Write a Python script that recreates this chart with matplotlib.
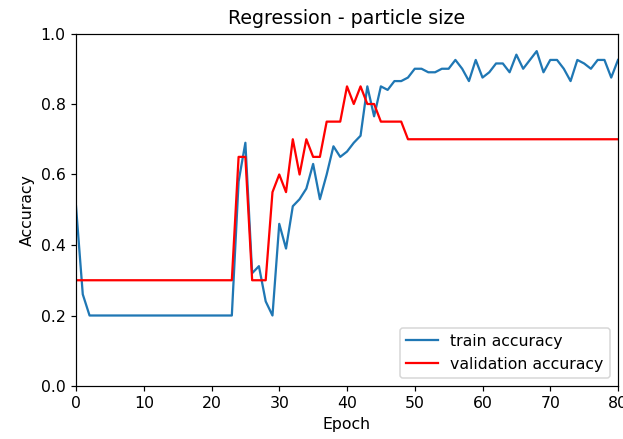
import matplotlib
matplotlib.use("Agg")
import matplotlib.pyplot as plt

DPI = 108
W, H = 623, 439

epochs = list(range(81))

train_acc = [
    0.51, 0.26, 0.20, 0.20, 0.20, 0.20, 0.20, 0.20, 0.20, 0.20,
    0.20, 0.20, 0.20, 0.20, 0.20, 0.20, 0.20, 0.20, 0.20, 0.20,
    0.20, 0.20, 0.20, 0.20, 0.58, 0.69, 0.32, 0.34, 0.24, 0.20,
    0.46, 0.39, 0.51, 0.53, 0.56, 0.63, 0.53, 0.60, 0.68, 0.65,
    0.665, 0.69, 0.71, 0.85, 0.765, 0.85, 0.84, 0.865, 0.865, 0.875,
    0.90, 0.90, 0.89, 0.89, 0.90, 0.90, 0.925, 0.90, 0.865, 0.925,
    0.875, 0.89, 0.915, 0.915, 0.89, 0.94, 0.90, 0.925, 0.95, 0.89,
    0.925, 0.925, 0.90, 0.865, 0.925, 0.915, 0.90, 0.925, 0.925, 0.875,
    0.925,
]

val_acc = [
    0.30, 0.30, 0.30, 0.30, 0.30, 0.30, 0.30, 0.30, 0.30, 0.30,
    0.30, 0.30, 0.30, 0.30, 0.30, 0.30, 0.30, 0.30, 0.30, 0.30,
    0.30, 0.30, 0.30, 0.30, 0.65, 0.65, 0.30, 0.30, 0.30, 0.55,
    0.60, 0.55, 0.70, 0.60, 0.70, 0.65, 0.65, 0.75, 0.75, 0.75,
    0.85, 0.80, 0.85, 0.80, 0.80, 0.75, 0.75, 0.75, 0.75, 0.70,
    0.70, 0.70, 0.70, 0.70, 0.70, 0.70, 0.70, 0.70, 0.70, 0.70,
    0.70, 0.70, 0.70, 0.70, 0.70, 0.70, 0.70, 0.70, 0.70, 0.70,
    0.70, 0.70, 0.70, 0.70, 0.70, 0.70, 0.70, 0.70, 0.70, 0.70,
    0.70,
]

plt.rcParams["font.size"] = 10.5

fig = plt.figure(figsize=(W / DPI, H / DPI), dpi=DPI)
ax = fig.add_axes([76 / W, (H - 386) / H, 542 / W, 352.5 / H])

ax.plot(epochs, train_acc, color="#1f77b4", linewidth=1.5, label="train accuracy")
ax.plot(epochs, val_acc, color="red", linewidth=1.5, label="validation accuracy")

ax.set_xlim(0, 80)
ax.set_ylim(0, 1)
ax.set_title("Regression - particle size", fontsize=12.7)
ax.set_xlabel("Epoch")
ax.set_ylabel("Accuracy")
ax.legend(loc="lower right")

fig.savefig("out.png", dpi=DPI)
